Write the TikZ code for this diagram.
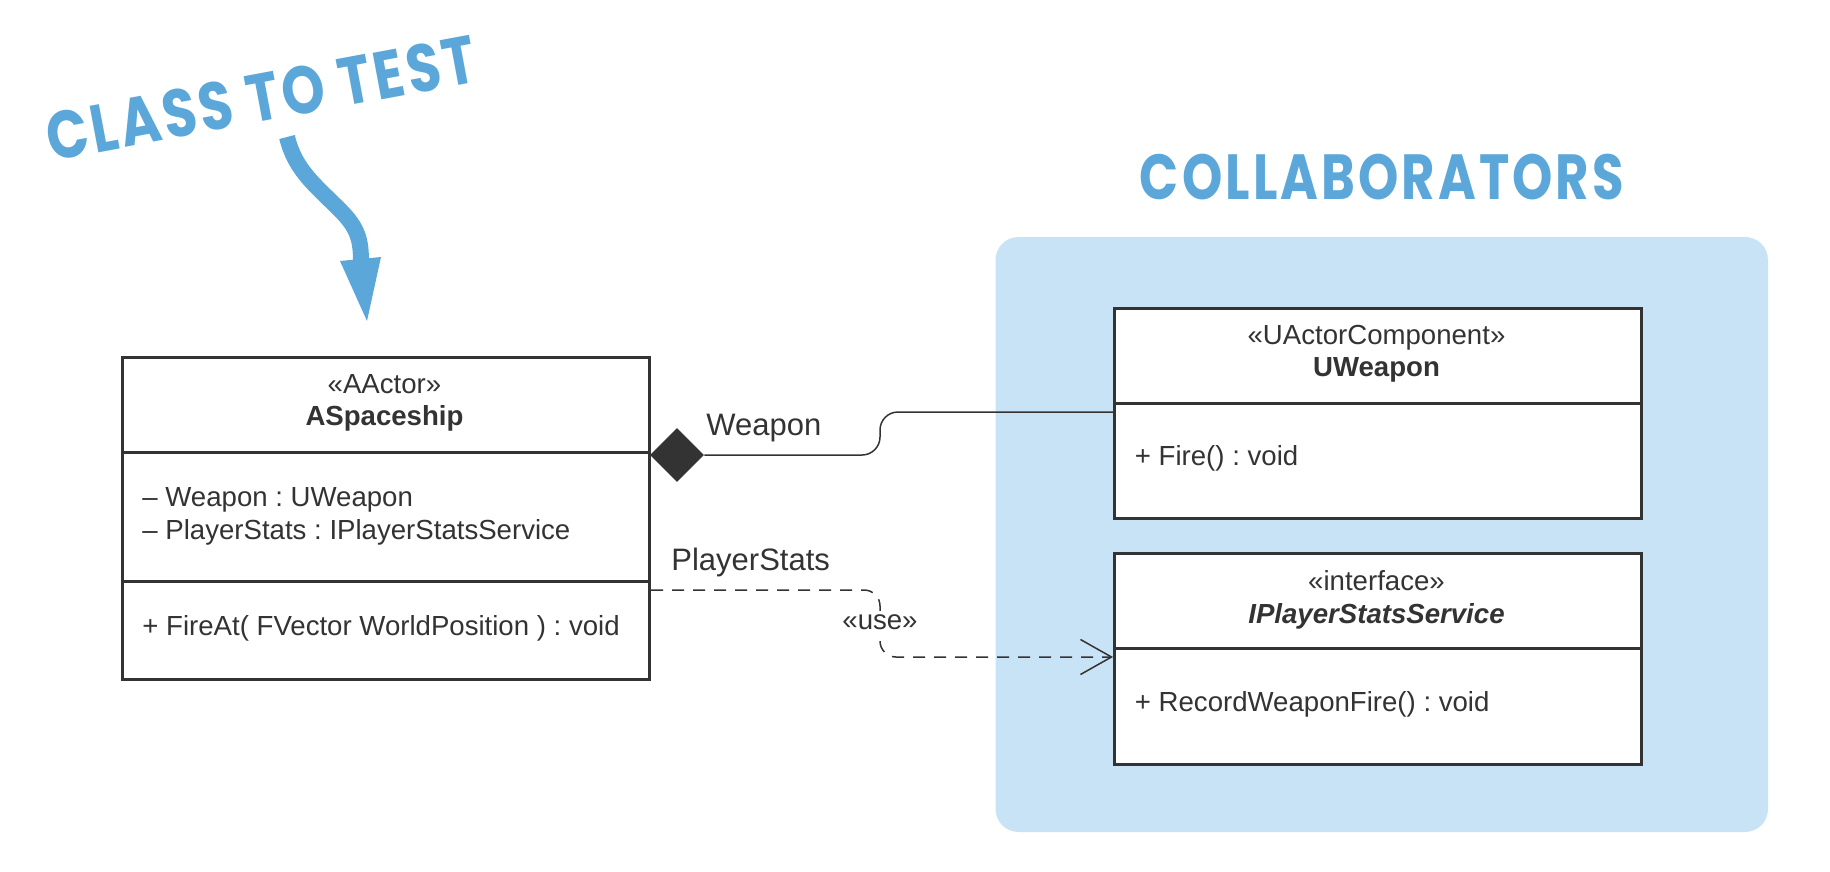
\documentclass[tikz,border=0pt]{standalone}
\usepackage{fontspec}
\setmainfont{Liberation Sans}
\newfontfamily\handfont{Poppins}[LetterSpace=6]
\usepackage{graphicx}
\usetikzlibrary{shapes.geometric,arrows.meta}
\frenchspacing

\definecolor{umlgray}{HTML}{333333}
\definecolor{handblue}{HTML}{5BA7D9}
\definecolor{collabfill}{HTML}{C8E3F5}

\tikzset{
  classpart/.style={draw=umlgray, line width=1.6pt, fill=white, minimum width=263.5pt, inner sep=0pt, anchor=north west},
  umltext/.style={text=umlgray, font=\fontsize{13.8}{16}\selectfont, inner sep=0pt},
  umlbold/.style={umltext, font=\fontsize{13.8}{16}\selectfont\bfseries},
  assoclabel/.style={text=umlgray, font=\fontsize{15.5}{18}\selectfont, inner sep=0pt, anchor=base west},
  conn/.style={draw=umlgray, line width=0.75pt},
  usedep/.style={conn, dash pattern=on 6pt off 4.5pt},
  comp/.style={diamond, fill=umlgray, minimum width=27pt, minimum height=27pt, inner sep=0pt},
  collabbg/.style={fill=collabfill, rounded corners=11.5pt, minimum width=386.25pt, minimum height=297.5pt, inner sep=0pt},
  handtitle/.style={text=handblue, font=\handfont\bfseries, inner sep=0pt},
}

\begin{document}
\begin{tikzpicture}[x=0.5pt,y=-0.5pt]
    \useasboundingbox (0,0) rectangle (1830,872);

    \node[collabbg] (collab) at (1381.75,534.5) {};
    \node[handtitle] (collab-title) at (1382,177) {\resizebox{242pt}{22.7pt}{COLLABORATORS}};
    \node[handtitle, rotate=10.6] (test-title) at (261,98) {\resizebox{218pt}{24pt}{CLASS TO TEST}};
    \draw[handblue, line width=8pt] (287,137) .. controls (295,170) and (315,185) .. (340,210)
        .. controls (358,228) and (361,240) .. (361,262);
    \fill[handblue] (340,261) -- (381,257) -- (367,321) -- cycle;

    % ASpaceship
    \node[classpart, minimum height=47.25pt] (ship-head) at (121,356) {};
    \node[classpart, minimum height=64.75pt] (ship-attr) at (121,450.5) {};
    \node[classpart, minimum height=49pt] (ship-meth) at (121,580) {};
    \node[umltext, anchor=base] (ship-stereo) at (384.5,393) {«AActor»};
    \node[umlbold, anchor=base] (ship-name) at (384.5,425.5) {ASpaceship};
    \node[umltext, anchor=base west] (ship-weapon-attr) at (142,506) {– Weapon : UWeapon};
    \node[umltext, anchor=base west] (ship-stats-attr) at (142,539) {– PlayerStats : IPlayerStatsService};
    \node[umltext, anchor=base west] (ship-fireat) at (142,635.5) {+ FireAt( FVector WorldPosition ) : void};

    % UWeapon
    \node[classpart, minimum height=47.25pt] (weapon-head) at (1113,307) {};
    \node[classpart, minimum height=57.75pt] (weapon-meth) at (1113,401.5) {};
    \node[umltext, anchor=base] (weapon-stereo) at (1376.5,344) {«UActorComponent»};
    \node[umlbold, anchor=base] (weapon-name) at (1376.5,376.5) {UWeapon};
    \node[umltext, anchor=base west] (weapon-fire) at (1134.5,465) {+ Fire() : void};

    % IPlayerStatsService
    \node[classpart, minimum height=47.25pt] (stats-head) at (1113,552) {};
    \node[classpart, minimum height=58.25pt] (stats-meth) at (1113,646.5) {};
    \node[umltext, anchor=base] (stats-stereo) at (1376.5,590) {«interface»};
    \node[umlbold, anchor=base] (stats-name) at (1376.5,623) {\itshape IPlayerStatsService};
    \node[umltext, anchor=base west] (stats-record) at (1134.5,711) {+ RecordWeaponFire() : void};

    % associations
    \node[comp] (ship-weapon) at (677,455) {};
    \draw[conn, rounded corners=9pt] (ship-weapon.east) -- (880,455) |- ([yshift=-5.25pt]weapon-meth.north west);
    \node[assoclabel] (weapon-role) at (706,435) {Weapon};

    \draw[usedep, rounded corners=8pt, -{Straight Barb[length=15.5pt,width=17.5pt]}]
        ([yshift=-5pt]ship-meth.north east) -- (880,590) |- ([yshift=-5.25pt]stats-meth.north west);
    \node[assoclabel] (stats-role) at (671,570) {PlayerStats};
    \node[umltext, fill=white, inner sep=1.5pt] (use-label) at (880,622) {«use»};
\end{tikzpicture}
\end{document}
